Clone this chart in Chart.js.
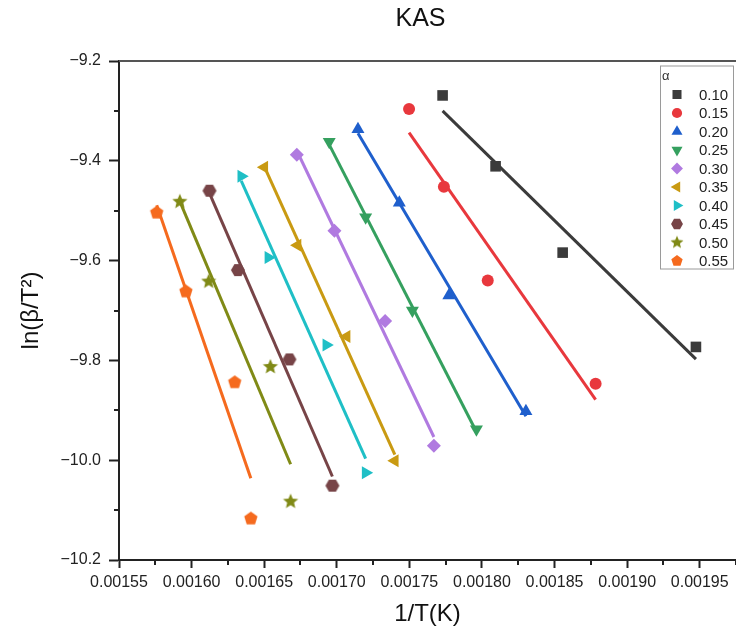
<!DOCTYPE html>
<html>
<head>
<meta charset="utf-8">
<title>KAS</title>
<script src="https://cdn.jsdelivr.net/npm/chart.js@4.4.0/dist/chart.umd.min.js"></script>
<style>
  html, body { margin: 0; padding: 0; background: #fff; }
  #wrap { width: 736px; height: 636px; }
</style>
</head>
<body>
<div id="wrap"><canvas id="kas-chart" width="736" height="636"></canvas></div>
<script>
// conversion degree (legend entries)
const alphaLabels = ['0.10', '0.15', '0.20', '0.25', '0.30', '0.35', '0.40', '0.45', '0.50', '0.55'];

// 1/T (K^-1), one row per conversion degree
const invT = [
    [0.0017729, 0.0018094, 0.0018556, 0.0019474],
    [0.0017498, 0.0017738, 0.0018040, 0.0018783],
    [0.0017146, 0.0017431, 0.0017772, 0.0018303],
    [0.0016948, 0.0017199, 0.0017521, 0.0017962],
    [0.0016725, 0.0016984, 0.0017333, 0.0017669],
    [0.0016501, 0.0016730, 0.0017068, 0.0017400],
    [0.0016342, 0.0016529, 0.0016928, 0.0017199],
    [0.0016123, 0.0016319, 0.0016674, 0.0016970],
    [0.0015919, 0.0016118, 0.0016543, 0.0016682],
    [0.0015760, 0.0015961, 0.0016297, 0.0016408]
];

// ln(beta/T^2)
const lnBT2 = [
    [-9.269, -9.411, -9.584, -9.773],
    [-9.296, -9.452, -9.640, -9.847],
    [-9.337, -9.484, -9.670, -9.902],
    [-9.362, -9.513, -9.700, -9.938],
    [-9.388, -9.540, -9.721, -9.971],
    [-9.413, -9.569, -9.752, -10.001],
    [-9.431, -9.594, -9.769, -10.025],
    [-9.460, -9.619, -9.798, -10.051],
    [-9.482, -9.642, -9.813, -10.083],
    [-9.504, -9.662, -9.844, -10.117]
];

const xTicks = [0.00155, 0.00160, 0.00165, 0.00170, 0.00175, 0.00180, 0.00185, 0.00190, 0.00195];
const yTicks = [-10.2, -10.0, -9.8, -9.6, -9.4, -9.2];

const seriesColors = ['#3b3b3b', '#e8383d', '#1f5fcc', '#35a05f', '#b07ae0',
                      '#c99a12', '#1fbfc6', '#774447', '#808a16', '#f56a1e'];

const FONT = "'Liberation Sans', Arial, Helvetica, sans-serif";

// filled shapes Chart.js has no built-in style for
function shapeCanvas(kind, r, color) {
    const size = Math.ceil(r * 2 + 2);
    const c = document.createElement('canvas');
    c.width = size;
    c.height = size;
    const g = c.getContext('2d');
    const cx = size / 2, cy = size / 2;
    g.beginPath();
    if (kind === 'hexagon') {
        for (let i = 0; i < 6; i++) {
            const a = Math.PI / 3 * i;
            g.lineTo(cx + r * Math.cos(a), cy + r * Math.sin(a));
        }
    } else if (kind === 'pentagon') {
        for (let i = 0; i < 5; i++) {
            const a = -Math.PI / 2 + 2 * Math.PI / 5 * i;
            g.lineTo(cx + r * Math.cos(a), cy + r * Math.sin(a));
        }
    } else {
        for (let i = 0; i < 10; i++) {
            const a = -Math.PI / 2 + Math.PI / 5 * i;
            const rr = i % 2 ? r * 0.45 : r;
            g.lineTo(cx + rr * Math.cos(a), cy + rr * Math.sin(a));
        }
    }
    g.closePath();
    g.fillStyle = color;
    g.fill();
    return c;
}

const markers = [
    { style: 'rect', rotation: 0, radius: 7.5 },
    { style: 'circle', rotation: 0, radius: 6 },
    { style: 'triangle', rotation: 0, radius: 7.5 },
    { style: 'triangle', rotation: 180, radius: 7.5 },
    { style: 'rectRot', rotation: 0, radius: 7 },
    { style: 'triangle', rotation: 270, radius: 7.5 },
    { style: 'triangle', rotation: 90, radius: 7.5 },
    { style: 'hexagon', rotation: 0, radius: 7 },
    { style: 'star', rotation: 0, radius: 8 },
    { style: 'pentagon', rotation: 0, radius: 7 }
];

function pointStyleFor(i, scale) {
    const m = markers[i];
    if (m.style === 'hexagon' || m.style === 'star' || m.style === 'pentagon') {
        return shapeCanvas(m.style, m.radius * scale, seriesColors[i]);
    }
    return m.style;
}

// least-squares line over the points of one series, drawn from first to last x
function fitLine(xs, ys) {
    const n = xs.length;
    const mx = xs.reduce((a, b) => a + b, 0) / n;
    const my = ys.reduce((a, b) => a + b, 0) / n;
    let sxy = 0, sxx = 0;
    for (let j = 0; j < n; j++) {
        sxy += (xs[j] - mx) * (ys[j] - my);
        sxx += (xs[j] - mx) * (xs[j] - mx);
    }
    const slope = sxy / sxx;
    const x0 = Math.min(...xs), x1 = Math.max(...xs);
    return [
        { x: x0, y: my + slope * (x0 - mx) },
        { x: x1, y: my + slope * (x1 - mx) }
    ];
}

const datasets = [];
alphaLabels.forEach((label, i) => {
    datasets.push({
        label: '_fit' + label,
        data: fitLine(invT[i], lnBT2[i]),
        showLine: true,
        borderColor: seriesColors[i],
        borderWidth: 3,
        pointRadius: 0,
        order: 1
    });
    datasets.push({
        label: label,
        data: invT[i].map((x, j) => ({ x: x, y: lnBT2[i][j] })),
        showLine: false,
        pointStyle: pointStyleFor(i, 1),
        rotation: markers[i].rotation,
        pointRadius: markers[i].radius,
        backgroundColor: seriesColors[i],
        borderColor: seriesColors[i],
        borderWidth: 0,
        order: 0
    });
});

const frameAndTitle = {
    id: 'frameAndTitle',
    afterDraw(chart) {
        const { ctx, chartArea, scales } = chart;
        ctx.save();
        // top frame line
        ctx.strokeStyle = '#555';
        ctx.lineWidth = 2;
        ctx.beginPath();
        ctx.moveTo(chartArea.left, chartArea.top);
        ctx.lineTo(chartArea.right, chartArea.top);
        ctx.stroke();

        // minor ticks
        ctx.strokeStyle = '#222';
        ctx.lineWidth = 2;
        ctx.beginPath();
        for (let k = 0; k < xTicks.length; k++) {
            const v = xTicks[k] + (xTicks[1] - xTicks[0]) / 2;
            if (v > scales.x.max) break;
            const px = Math.round(scales.x.getPixelForValue(v));
            ctx.moveTo(px, chartArea.bottom);
            ctx.lineTo(px, chartArea.bottom + 5);
        }
        for (let k = 0; k < yTicks.length - 1; k++) {
            const py = Math.round(scales.y.getPixelForValue((yTicks[k] + yTicks[k + 1]) / 2));
            ctx.moveTo(chartArea.left, py);
            ctx.lineTo(chartArea.left - 5, py);
        }
        ctx.stroke();

        // title
        ctx.fillStyle = '#111';
        ctx.font = '25px ' + FONT;
        ctx.textAlign = 'center';
        ctx.textBaseline = 'middle';
        ctx.fillText('KAS', (chartArea.left + chartArea.right) / 2 - 7, 19);
        ctx.restore();
    }
};

const legendBox = {
    id: 'legendBox',
    afterDraw(chart) {
        const { ctx, chartArea } = chart;
        const right = chartArea.right - 3;
        const left = right - 73;
        const top = chartArea.top + 4.5;
        const bottom = top + 203;
        ctx.save();
        ctx.fillStyle = '#fff';
        ctx.fillRect(left, top, right - left, bottom - top);
        ctx.strokeStyle = '#9a9a9a';
        ctx.lineWidth = 1;
        ctx.strokeRect(left + 0.5, top + 0.5, right - left, bottom - top);

        ctx.fillStyle = '#333';
        ctx.font = '13px ' + FONT;
        ctx.textAlign = 'left';
        ctx.textBaseline = 'middle';
        ctx.fillText('α', left + 2, top + 11);

        const drawPoint = Chart.helpers && Chart.helpers.drawPoint;
        alphaLabels.forEach((label, i) => {
            const y = top + 29 + i * 18.5;
            const mx = left + 17;
            ctx.fillStyle = seriesColors[i];
            ctx.strokeStyle = seriesColors[i];
            if (drawPoint) {
                drawPoint(ctx, {
                    pointStyle: pointStyleFor(i, 0.85),
                    rotation: markers[i].rotation,
                    radius: markers[i].radius * 0.85,
                    borderWidth: 0
                }, mx, y);
            }
            ctx.fillStyle = '#222';
            ctx.font = '15px ' + FONT;
            ctx.fillText(label, left + 39, y + 1);
        });
        ctx.restore();
    }
};

new Chart(document.getElementById('kas-chart'), {
    type: 'scatter',
    data: { datasets: datasets },
    options: {
        responsive: false,
        animation: false,
        devicePixelRatio: 1,
        layout: { autoPadding: false, padding: { top: 61, right: 0, bottom: 0, left: 0 } },
        plugins: {
            legend: { display: false },
            tooltip: { enabled: false },
            title: { display: false }
        },
        scales: {
            x: {
                type: 'linear',
                min: 0.00155,
                max: 0.001975,
                afterBuildTicks: s => { s.ticks = xTicks.map(v => ({ value: v })); },
                afterFit: s => { s.height = 76; s.paddingRight = 0; s.paddingLeft = 0; },
                border: { display: true, color: '#222', width: 2 },
                grid: { drawOnChartArea: false, drawTicks: true, tickLength: 8, tickWidth: 2, tickColor: '#222' },
                ticks: {
                    autoSkip: false,
                    maxRotation: 0,
                    padding: 5,
                    color: '#222',
                    font: { family: FONT, size: 16 },
                    callback: v => v.toFixed(5)
                },
                title: {
                    display: true,
                    text: '1/T(K)',
                    color: '#111',
                    font: { family: FONT, size: 24 },
                    padding: { top: 0, bottom: 7 }
                }
            },
            y: {
                type: 'linear',
                min: -10.2,
                max: -9.2,
                afterBuildTicks: s => { s.ticks = yTicks.map(v => ({ value: v })); },
                afterFit: s => { s.width = 119; },
                border: { display: true, color: '#222', width: 2 },
                grid: { drawOnChartArea: false, drawTicks: true, tickLength: 10, tickWidth: 2, tickColor: '#222' },
                ticks: {
                    autoSkip: false,
                    padding: 8,
                    color: '#222',
                    font: { family: FONT, size: 16 },
                    callback: v => v.toFixed(1).replace('-', '\u2212')
                },
                title: {
                    display: true,
                    text: 'ln(β/T²)',
                    color: '#111',
                    font: { family: FONT, size: 24 },
                    padding: { top: 17, bottom: 0 }
                }
            }
        }
    },
    plugins: [frameAndTitle, legendBox]
});
</script>
</body>
</html>
